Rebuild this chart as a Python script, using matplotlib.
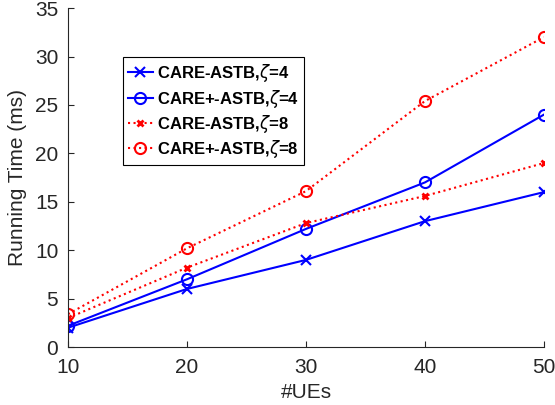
import matplotlib
matplotlib.use('Agg')
from matplotlib import pyplot as plt

plt.rcParams['font.family'] = ['Liberation Sans', 'DejaVu Sans']
plt.rcParams['mathtext.fontset'] = 'dejavusans'

ues = [10, 20, 30, 40, 50]
care_z4 = [2.0, 6.0, 9.0, 13.0, 16.0]
careplus_z4 = [2.2, 7.0, 12.2, 17.0, 24.0]
care_z8 = [3.0, 8.2, 12.8, 15.6, 19.0]
careplus_z8 = [3.4, 10.2, 16.1, 25.4, 32.0]

fig = plt.figure(figsize=(5.55, 4.05), dpi=100)
ax = fig.add_axes([0.1225, 0.143, 0.8575, 0.837])

ax.plot(ues, care_z4, '-x', color='blue', lw=1.5, ms=7, mew=1.5, label=r'CARE-ASTB,$\zeta$=4')
ax.plot(ues, careplus_z4, '-o', color='blue', lw=1.5, ms=8, mew=1.5, mfc='none', label=r'CARE+-ASTB,$\zeta$=4')
ax.plot(ues, care_z8, ':x', color='red', lw=1.5, ms=5, mew=2, label=r'CARE-ASTB,$\zeta$=8')
ax.plot(ues, careplus_z8, ':o', color='red', lw=1.5, ms=8, mew=1.5, mfc='none', label=r'CARE+-ASTB,$\zeta$=8')

ax.set_xlim(10, 50)
ax.set_ylim(0, 35)
ax.set_xticks(ues)
ax.set_yticks(range(0, 36, 5))
ax.tick_params(direction='in', labelsize=15, colors='#262626', length=4)
ax.tick_params(axis='x', pad=8)
ax.tick_params(axis='y', pad=7)
for s in ['top', 'right']:
    ax.spines[s].set_visible(False)
for s in ['left', 'bottom']:
    ax.spines[s].set_color('#262626')
ax.set_xlabel('#UEs', fontsize=15, color='#262626', labelpad=4)
ax.set_ylabel('Running Time (ms)', fontsize=15, color='#262626', labelpad=6)

leg = ax.legend(loc='upper left', bbox_to_anchor=(0.1155, 0.855), borderaxespad=0,
                prop={'weight': 'bold', 'size': 12},
                fancybox=False, framealpha=1, edgecolor='black', handlelength=1.5,
                handletextpad=0.25, borderpad=0.3, labelspacing=0.2)
leg.get_frame().set_linewidth(0.8)

fig.savefig('out.png', dpi=100)
